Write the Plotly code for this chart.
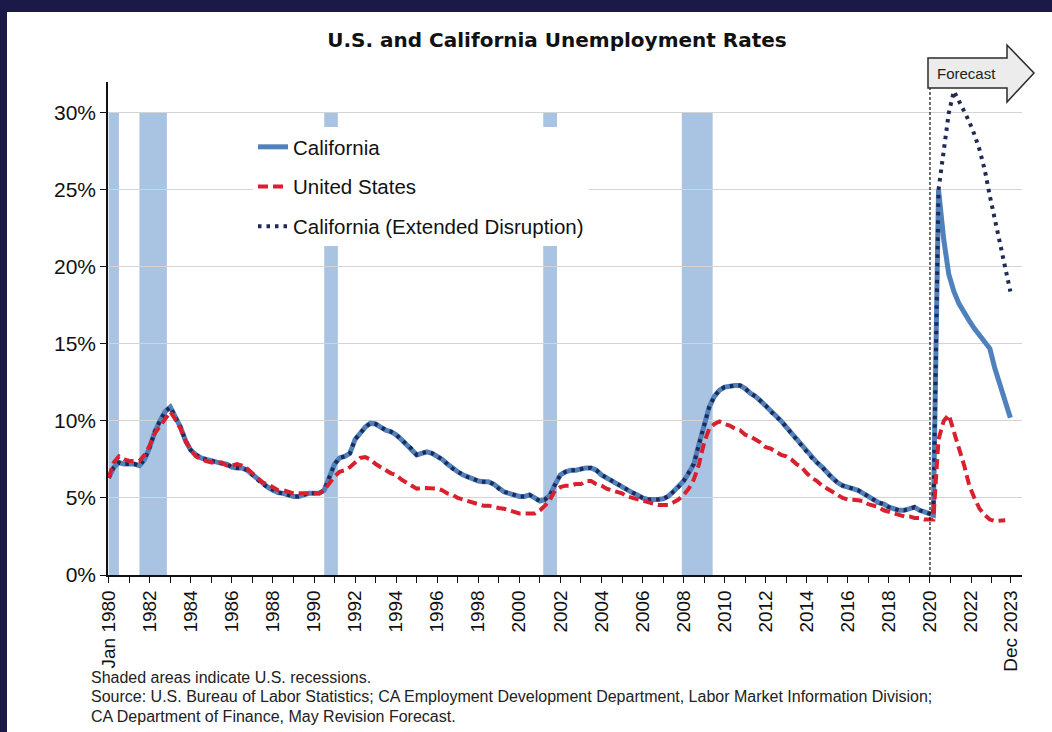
import pandas as pd
import plotly.graph_objects as go

# ---------------- data ----------------
hist_dates = pd.date_range("1980-01-01", "2020-01-01", freq="QS")  # quarterly, Jan 1980 .. Jan 2020

ca_hist = [
    6.3, 7.0, 7.3, 7.2,      # 1980
    7.2, 7.2, 7.1, 7.5,      # 1981
    8.3, 9.3, 10.0, 10.6,    # 1982
    10.9, 10.3, 9.6, 8.7,    # 1983
    8.1, 7.8, 7.6, 7.5,      # 1984
    7.4, 7.3, 7.25, 7.2,     # 1985
    7.0, 6.95, 6.95, 6.8,    # 1986
    6.5, 6.2, 5.9, 5.7,      # 1987
    5.5, 5.35, 5.3, 5.2,     # 1988
    5.1, 5.1, 5.2, 5.3,      # 1989
    5.3, 5.3, 5.5, 6.3,      # 1990
    7.2, 7.6, 7.7, 7.9,      # 1991
    8.8, 9.2, 9.6, 9.85,     # 1992
    9.8, 9.6, 9.4, 9.3,      # 1993
    9.1, 8.8, 8.5, 8.2,      # 1994
    7.8, 7.9, 8.0, 7.9,      # 1995
    7.7, 7.5, 7.2, 6.9,      # 1996
    6.7, 6.5, 6.35, 6.25,    # 1997
    6.1, 6.05, 6.05, 5.9,    # 1998
    5.6, 5.4, 5.3, 5.2,      # 1999
    5.1, 5.1, 5.2, 5.0,      # 2000
    4.8, 4.9, 5.2, 5.9,      # 2001
    6.5, 6.7, 6.8, 6.8,      # 2002
    6.9, 6.95, 6.95, 6.8,    # 2003
    6.5, 6.3, 6.1, 5.9,      # 2004
    5.7, 5.5, 5.35, 5.2,     # 2005
    5.0, 4.9, 4.87, 4.9,     # 2006
    4.95, 5.1, 5.4, 5.7,     # 2007
    6.1, 6.6, 7.2, 8.5,      # 2008
    9.7, 10.9, 11.6, 12.0,   # 2009
    12.2, 12.27, 12.3, 12.3, # 2010
    12.1, 11.8, 11.6, 11.3,  # 2011
    11.0, 10.6, 10.3, 10.0,  # 2012
    9.6, 9.2, 8.8, 8.4,      # 2013
    8.0, 7.6, 7.3, 7.0,      # 2014
    6.6, 6.3, 6.0, 5.8,      # 2015
    5.7, 5.6, 5.5, 5.3,      # 2016
    5.1, 4.9, 4.7, 4.6,      # 2017
    4.4, 4.3, 4.2, 4.2,      # 2018
    4.3, 4.4, 4.2, 4.1,      # 2019
    4.0,                     # Jan 2020
]

us_hist = [
    6.3, 7.3, 7.7, 7.5,      # 1980
    7.4, 7.4, 7.4, 7.8,      # 1981
    8.4, 9.2, 9.7, 10.2,     # 1982
    10.6, 10.1, 9.5, 8.7,    # 1983
    8.1, 7.7, 7.5, 7.4,      # 1984
    7.3, 7.3, 7.3, 7.1,      # 1985
    7.1, 7.2, 7.1, 6.9,      # 1986
    6.6, 6.3, 6.0, 5.9,      # 1987
    5.7, 5.5, 5.5, 5.4,      # 1988
    5.3, 5.3, 5.3, 5.3,      # 1989
    5.3, 5.3, 5.5, 6.0,      # 1990
    6.4, 6.7, 6.8, 7.0,      # 1991
    7.3, 7.6, 7.65, 7.5,     # 1992
    7.2, 7.0, 6.8, 6.6,      # 1993
    6.5, 6.2, 6.0, 5.8,      # 1994
    5.6, 5.65, 5.65, 5.6,    # 1995
    5.6, 5.5, 5.3, 5.2,      # 1996
    5.0, 4.9, 4.8, 4.7,      # 1997
    4.6, 4.5, 4.5, 4.4,      # 1998
    4.35, 4.3, 4.2, 4.1,     # 1999
    4.0, 4.0, 4.0, 4.0,      # 2000
    4.2, 4.5, 4.9, 5.5,      # 2001
    5.7, 5.8, 5.8, 5.9,      # 2002
    5.9, 6.1, 6.1, 5.9,      # 2003
    5.8, 5.6, 5.5, 5.4,      # 2004
    5.3, 5.1, 5.0, 4.9,      # 2005
    4.8, 4.7, 4.6, 4.55,     # 2006
    4.55, 4.55, 4.7, 4.9,    # 2007
    5.2, 5.6, 6.2, 7.2,      # 2008
    8.6, 9.5, 9.8, 9.96,     # 2009
    9.8, 9.7, 9.5, 9.4,      # 2010
    9.1, 9.0, 8.8, 8.6,      # 2011
    8.3, 8.2, 8.0, 7.8,      # 2012
    7.7, 7.5, 7.2, 7.0,      # 2013
    6.6, 6.3, 6.1, 5.8,      # 2014
    5.6, 5.4, 5.2, 5.0,      # 2015
    4.9, 4.9, 4.85, 4.8,     # 2016
    4.6, 4.5, 4.4, 4.2,      # 2017
    4.1, 4.0, 3.9, 3.8,      # 2018
    3.8, 3.7, 3.7, 3.6,      # 2019
    3.6,                     # Jan 2020
]

fc_dates = pd.date_range("2020-03-01", "2023-12-01", freq="3MS")  # Mar 2020 .. Dec 2023

ca_fc = [3.9, 25.0, 21.8, 19.5, 18.4, 17.6, 17.0, 16.5,
         16.0, 15.6, 15.2, 14.7, 13.4, 12.4, 11.3, 10.2]
ext_fc = [3.9, 25.0, 27.3, 30.0, 31.4, 30.8, 30.1, 29.4,
          28.6, 27.6, 26.3, 24.6, 23.0, 21.4, 19.9, 18.4]
us_fc = [3.6, 8.8, 10.0, 10.4, 9.4, 8.2, 7.1, 5.8,
         5.0, 4.3, 3.9, 3.6, 3.5, 3.5, 3.55]

recessions = [("1980-01-01", "1980-07-01"), ("1981-07-01", "1982-11-01"),
              ("1990-07-01", "1991-03-01"), ("2001-03-01", "2001-11-01"),
              ("2007-12-01", "2009-06-01")]

forecast_start = "2020-01-01"

tick_dates = [f"{y}-01-01" for y in range(1980, 2024)] + ["2023-12-01"]
tick_text = ["Jan 1980"] + [str(y) if y % 2 == 0 else "" for y in range(1981, 2024)] + ["Dec 2023"]

# ---------------- figure ----------------
FONT = "Liberation Sans, Arial, sans-serif"
W, H = 1052, 732
L, R, T, B = 108, 30, 82, 157
PW, PH = W - L - R, H - T - B


def px_x(p):  # pixel -> paper x
    return (p - L) / PW


def px_y(p):  # pixel -> paper y
    return (H - B - p) / PH


all_dates = list(hist_dates) + list(fc_dates)
ca_all = ca_hist + ca_fc
ext_all = ca_hist + ext_fc
us_all = us_hist + us_fc
us_dates = list(hist_dates) + list(fc_dates[:len(us_fc)])

fig = go.Figure()
fig.add_trace(go.Scatter(x=all_dates, y=ca_all, mode="lines", name="California",
                         line=dict(color="#4f81bd", width=5), legendgroup="a", legendrank=1))
fig.add_trace(go.Scatter(x=all_dates, y=ext_all, mode="lines", name="California (Extended Disruption)",
                         line=dict(color="#1f2a56", width=4, dash="3.5px,5px"), legendgroup="c",
                         legendrank=3))
fig.add_trace(go.Scatter(x=us_dates, y=us_all, mode="lines", name="United States",
                         line=dict(color="#d9202e", width=4, dash="10px,5px"), legendgroup="b",
                         legendrank=2))

shapes = []
for a, b in recessions:
    shapes.append(dict(type="rect", xref="x", yref="y", x0=a, x1=b, y0=0, y1=30,
                       fillcolor="#a9c3e3", line=dict(width=0), layer="below"))

# forecast divider
shapes.append(dict(type="line", xref="x", yref="paper", x0=forecast_start, x1=forecast_start,
                   y0=0, y1=px_y(88), line=dict(color="#111", width=1.2, dash="3px,2px")))

# forecast arrow (decoration)
ax0 = px_x(928)
ax1 = px_x(1007)
atip = px_x(1034)
yb0, yb1 = px_y(88), px_y(58)
yh0, yh1, ym = px_y(102), px_y(45), px_y(73)
path = (f"M{ax0},{yb0} L{ax0},{yb1} L{ax1},{yb1} L{ax1},{yh1} L{atip},{ym} "
        f"L{ax1},{yh0} L{ax1},{yb0} Z")
shapes.append(dict(type="path", xref="paper", yref="paper", path=path,
                   fillcolor="#ececec", line=dict(color="#2b2b2b", width=1.5)))

# dark frame strips (top and left)
shapes.append(dict(type="rect", xref="paper", yref="paper", x0=px_x(0), x1=px_x(W),
                   y0=px_y(12), y1=px_y(0), fillcolor="#1b1948", line=dict(width=0)))
shapes.append(dict(type="rect", xref="paper", yref="paper", x0=px_x(0), x1=px_x(7),
                   y0=px_y(H), y1=px_y(0), fillcolor="#1b1948", line=dict(width=0)))

annotations = [
    dict(text="Forecast", xref="paper", yref="paper", x=px_x(966), y=px_y(73),
         showarrow=False, font=dict(family=FONT, size=15, color="#222"),
         xanchor="center", yanchor="middle"),
]
notes = ["Shaded areas indicate U.S. recessions.",
         "Source: U.S. Bureau of Labor Statistics; CA Employment Development Department, Labor Market Information Division;",
         "CA Department of Finance, May Revision Forecast."]
for i, n in enumerate(notes):
    annotations.append(dict(text=n, xref="paper", yref="paper", x=px_x(89), y=px_y(677 + 19.5 * i),
                            showarrow=False, xanchor="left", yanchor="middle",
                            font=dict(family=FONT, size=16, color="#222")))

fig.update_layout(
    width=W, height=H,
    margin=dict(l=L, r=R, t=T, b=B),
    paper_bgcolor="white", plot_bgcolor="white",
    title=dict(text="<b>U.S. and California Unemployment Rates</b>", x=557 / W, xanchor="center",
               y=1 - 40 / H, yanchor="middle",
               font=dict(family="DejaVu Sans, sans-serif", size=20, color="#111")),
    shapes=shapes,
    annotations=annotations,
    showlegend=True,
    legend=dict(x=px_x(253), y=px_y(127), xanchor="left", yanchor="top",
                bgcolor="white", borderwidth=0, traceorder="grouped", tracegroupgap=10,
                font=dict(family=FONT, size=20.5, color="#111")),
    xaxis=dict(type="date", range=["1979-12-20", "2024-06-25"],
               tickmode="array", tickvals=tick_dates, ticktext=tick_text, tickangle=-90,
               ticks="outside", ticklen=6, tickcolor="#111", tickwidth=1.3,
               showline=True, linecolor="#111", linewidth=1.5, showgrid=False,
               tickfont=dict(family=FONT, size=19, color="#111"), zeroline=False),
    yaxis=dict(range=[0, 32], tickmode="array", tickvals=[0, 5, 10, 15, 20, 25, 30],
               ticktext=["0%", "5%", "10%", "15%", "20%", "25%", "30%"],
               ticks="outside", ticklen=6, tickcolor="#111", tickwidth=1.3,
               showline=True, linecolor="#111", linewidth=1.5,
               showgrid=True, gridcolor="#d4d4d4", gridwidth=1.3, zeroline=False,
               tickfont=dict(family=FONT, size=21, color="#111")),
)

fig.write_html("out.html", config={"displayModeBar": False},
               post_script="document.body.style.margin='0';")
